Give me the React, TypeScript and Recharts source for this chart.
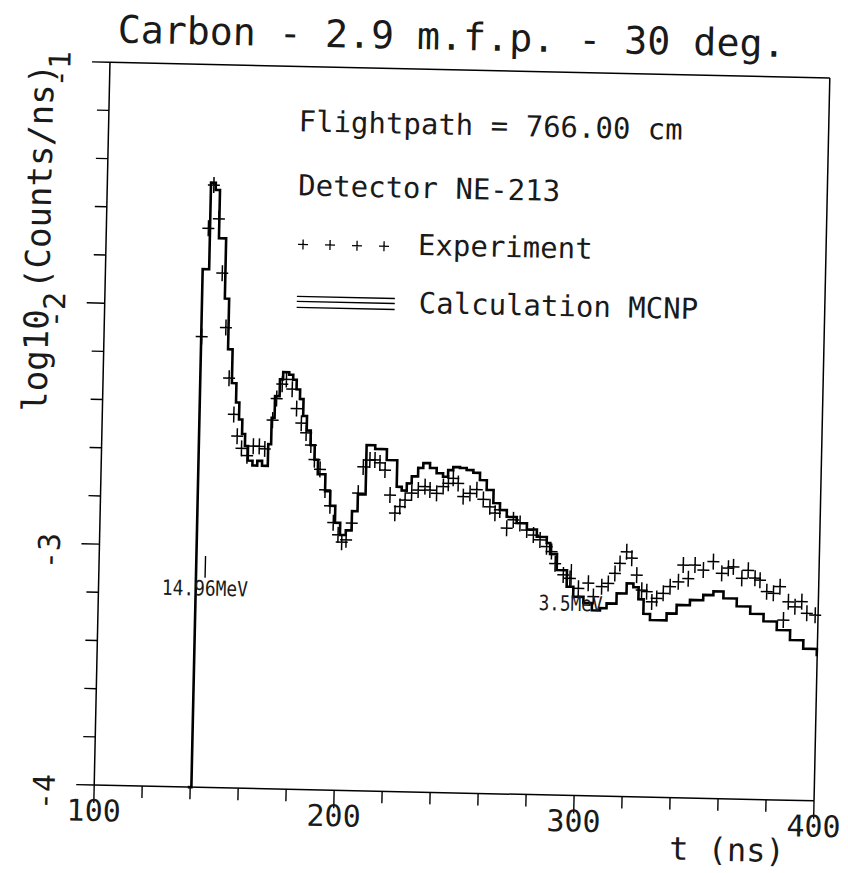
import React from 'react';
import { ComposedChart, Line, Scatter, XAxis, YAxis, ReferenceLine, ReferenceDot, Customized } from 'recharts';

const FONT = '"DejaVu Sans Mono", monospace';
const INK = '#1a1a1a';

const X_TICKS = [100, 120, 140, 160, 180, 200, 220, 240, 260, 280, 300, 320, 340, 360, 380, 400];
const Y_TICKS = [-4, -3.8, -3.6, -3.4, -3.2, -3, -2.8, -2.6, -2.4, -2.2, -2, -1.8, -1.6, -1.4, -1.2, -1];

// MCNP calculation, histogram (bin start time in ns, log10 counts/ns)
const CALC_T = [
  139, 140.5, 143.2, 145.2, 147, 150, 151.8, 153.7, 155.6, 157, 158.4, 159.7, 161, 163, 165, 167, 169.4,
  170.6, 171.8, 173.7, 175, 177.5, 179.2, 180.7, 182.2, 183.7, 185.3, 187, 188.8, 190.3, 193.5, 195.7,
  197.9, 200.1, 202.5, 204.9, 207.2, 210.4, 214, 218.9, 223.3, 225.4, 227.5, 229.5, 232.1, 234.2, 237,
  239.8, 242.5, 244.6, 246.7, 249.5, 252.3, 255.1, 257.9, 260.8, 263.7, 266.5, 269.4, 273.6, 277.9,
  282.1, 286.3, 287.8, 290.7, 295, 297.8, 302.1, 305.7, 309.1, 311.8, 315.9, 320, 322.8, 325, 327.2,
  330, 334.2, 336.9, 341, 346.5, 352, 356.2, 360.4, 366, 371.7, 377.3, 382.9, 388.5, 394.1, 399.8,
];
const CALC_V = [
  -4, -1.85, -1.49, -1.52, -1.72, -1.97, -2.18, -2.32, -2.4, -2.47, -2.53, -2.58, -2.64, -2.66, -2.64, -2.66, -2.57,
  -2.46, -2.37, -2.3, -2.27, -2.28, -2.3, -2.34, -2.38, -2.45, -2.51, -2.57, -2.63, -2.69, -2.76, -2.82,
  -2.89, -2.94, -2.92, -2.84, -2.77, -2.565, -2.58, -2.625, -2.735, -2.75, -2.72, -2.69, -2.655, -2.634, -2.654,
  -2.675, -2.689, -2.661, -2.648, -2.651, -2.659, -2.67, -2.7, -2.74, -2.794, -2.822, -2.85, -2.875, -2.9,
  -2.93, -2.955, -3.0, -3.066, -3.134, -3.175, -3.2, -3.23, -3.22, -3.2, -3.157, -3.115, -3.13, -3.18, -3.24,
  -3.265, -3.265, -3.236, -3.2, -3.178, -3.156, -3.14, -3.168, -3.2, -3.23, -3.26, -3.295, -3.335, -3.37, -3.4,
];

// experiment points
const EXP_T = [
  140.7, 142.5, 144.4, 146.8, 148.7, 150.7, 152.5, 154.8, 156.4, 158.3, 160.7, 163.2, 165.7, 168, 171, 172.5,
  174.7, 176.4, 178.9, 180.9, 183, 185.1, 187.2, 188.8, 191.2, 193.5, 195.7, 197.2, 199.3, 200.9, 202.7, 204.9,
  207.3, 209.2, 211.9, 214, 216.1, 218.3, 220.6, 222.8, 224.8, 226.9, 229.6, 232.3, 235.1, 237.2, 240, 242.7,
  244.8, 246.8, 248.9, 251.1, 253.9, 256.7, 259.5, 262.3, 264.5, 266.5, 269.5, 272.2, 275, 277.9, 280.7, 283.5,
  286.3, 288.4, 290, 293.5, 296.3, 299.9, 304, 306.2, 309.6, 312.3, 315, 317, 319.7, 321.9, 324.1, 326.3,
  328.4, 330.6, 332.6, 335.3, 338.1, 341.5, 343.4, 345.6, 348.3, 351.8, 355.9, 359.5, 362.2, 364.3, 367.9, 370.5,
  373.4, 375.5, 378.4, 381.2, 383.9, 385.6, 387.5, 390.3, 393.1, 395.3, 398.8,
];
const EXP_V = [
  -2.13, -1.68, -1.5, -1.64, -1.865, -2.09, -2.3, -2.45, -2.54, -2.59, -2.62, -2.58, -2.58, -2.59, -2.47, -2.38,
  -2.32, -2.3, -2.34, -2.42, -2.48, -2.52, -2.57, -2.63, -2.67, -2.755, -2.82, -2.89, -2.94, -2.97, -2.96, -2.89,
  -2.765, -2.656, -2.627, -2.626, -2.638, -2.667, -2.77, -2.845, -2.817, -2.79, -2.76, -2.747, -2.732, -2.746, -2.759, -2.73,
  -2.716, -2.695, -2.716, -2.77, -2.756, -2.74, -2.78, -2.81, -2.836, -2.822, -2.897, -2.862, -2.876, -2.903, -2.923, -2.943,
  -2.97, -2.99, -3.04, -3.086, -3.1, -3.14, -3.118, -3.173, -3.131, -3.117, -3.075, -3.033, -2.984, -3.01, -3.08, -3.142,
  -3.148, -3.19, -3.175, -3.153, -3.125, -3.104, -3.034, -3.09, -3.033, -3.053, -3.017, -3.065, -3.043, -3.037, -3.084, -3.05,
  -3.082, -3.09, -3.137, -3.143, -3.115, -3.253, -3.177, -3.197, -3.175, -3.223, -3.23,
];

const ENERGY_MARKS = [
  { t: 144.3, label: '14.96MeV', y: -3.175, len: 86 },
  { t: 296.8, label: '3.5MeV', y: -3.205, len: 64 },
];

const calcData = CALC_T.map((t, i) => ({ t, v: CALC_V[i] }));
const expData = EXP_T.map((t, i) => ({ t, v: EXP_V[i] }));

const MAJOR = 18;
const MINOR = 12;
const TICK_FONT = 30;

function BottomTick({ x, y, payload }: any) {
  const major = payload.value % 100 === 0;
  return (
    <g>
      <line x1={x} x2={x} y1={y} y2={y + (major ? MAJOR : MINOR)} stroke="#000" strokeWidth={1.4} />
      {major && (
        <text x={x} y={y + 36} textAnchor="middle" fontFamily={FONT} fontSize={TICK_FONT} fill={INK}>
          {payload.value}
        </text>
      )}
    </g>
  );
}

function TopTick({ x, y, payload }: any) {
  const major = payload.value % 100 === 0;
  return <line x1={x} x2={x} y1={y} y2={y - (major ? MAJOR : MINOR)} stroke="#000" strokeWidth={1.4} />;
}

function LeftTick({ x, y, payload }: any) {
  const major = Number.isInteger(payload.value);
  const lx = x - 50;
  const ly = y + 8;
  return (
    <g>
      <line x1={x} x2={x - (major ? MAJOR : MINOR)} y1={y} y2={y} stroke="#000" strokeWidth={1.4} />
      {major && (
        <text
          x={lx}
          y={ly}
          transform={`rotate(-90 ${lx} ${ly})`}
          textAnchor="middle"
          dominantBaseline="central"
          fontFamily={FONT}
          fontSize={TICK_FONT}
          fill={INK}
        >
          {payload.value}
        </text>
      )}
    </g>
  );
}

function RightTick({ x, y, payload }: any) {
  const major = Number.isInteger(payload.value);
  return <line x1={x} x2={x + (major ? MAJOR : MINOR)} y1={y} y2={y} stroke="#000" strokeWidth={1.4} />;
}

function Cross({ cx, cy }: any) {
  if (cx == null || cy == null) return null;
  return <path d={`M${cx - 6},${cy}H${cx + 6}M${cx},${cy - 8}V${cy + 8}`} stroke="#000" strokeWidth={1.5} fill="none" />;
}

function EnergyLabel({ cx, cy, label, len }: any) {
  return (
    <text
      x={cx}
      y={cy}
      textAnchor="middle"
      dominantBaseline="central"
      fontFamily={FONT}
      fontSize={21}
      textLength={len}
      lengthAdjust="spacingAndGlyphs"
      fill={INK}
    >
      {label}
    </text>
  );
}

function Annotations() {
  const plus = [291, 318, 345, 372];
  return (
    <g fontFamily={FONT} fill={INK}>
      <text x={101} y={42} fontSize={38} textLength={668} lengthAdjust="spacingAndGlyphs">
        Carbon - 2.9 m.f.p. - 30 deg.
      </text>
      <text x={26} y={239} fontSize={34} textAnchor="middle" dominantBaseline="central" transform="rotate(-90 26 239)">
        log10 (Counts/ns)
      </text>
      <text x={728} y={847} fontSize={32} textAnchor="middle">t (ns)</text>
      <text x={284} y={127} fontSize={29}>Flightpath = 766.00 cm</text>
      <text x={285} y={191} fontSize={29}>Detector NE-213</text>
      {plus.map((px) => (
        <path key={px} d={`M${px - 5},240H${px + 5}M${px},235V245`} stroke="#000" strokeWidth={1.3} />
      ))}
      <text x={406} y={248} fontSize={29}>Experiment</text>
      {[292, 297, 303].map((ly) => (
        <line key={ly} x1={286} x2={384} y1={ly} y2={ly} stroke="#000" strokeWidth={1.4} />
      ))}
      <text x={408} y={306} fontSize={29}>Calculation MCNP</text>
    </g>
  );
}

export default function App() {
  return (
    <div style={{ width: 840, height: 865, overflow: 'hidden', background: '#fff' }}>
      <style>{'body{overflow:hidden}'}</style>
      <div style={{ width: 840, height: 865, transform: 'rotate(1.25deg)', transformOrigin: '454px 423.5px' }}>
        <ComposedChart width={840} height={865} margin={{ top: 42, right: 8, bottom: 50, left: 34 }}>
          <XAxis
            dataKey="t"
            type="number"
            domain={[100, 400]}
            ticks={X_TICKS}
            interval={0}
            height={30}
            tickSize={0}
            tickMargin={0}
            tickLine={false}
            tick={<BottomTick />}
            axisLine={{ stroke: '#000', strokeWidth: 1.5 }}
          />
          <XAxis
            xAxisId="top"
            orientation="top"
            dataKey="t"
            type="number"
            domain={[100, 400]}
            ticks={X_TICKS}
            interval={0}
            height={20}
            tickSize={0}
            tickMargin={0}
            tickLine={false}
            tick={<TopTick />}
            axisLine={{ stroke: '#000', strokeWidth: 1.5 }}
          />
          <YAxis
            type="number"
            domain={[-4, -1]}
            ticks={Y_TICKS}
            interval={0}
            width={60}
            tickSize={0}
            tickMargin={0}
            tickLine={false}
            tick={<LeftTick />}
            axisLine={{ stroke: '#000', strokeWidth: 1.5 }}
          />
          <YAxis
            yAxisId="right"
            orientation="right"
            type="number"
            domain={[-4, -1]}
            ticks={Y_TICKS}
            interval={0}
            width={18}
            tickSize={0}
            tickMargin={0}
            tickLine={false}
            tick={<RightTick />}
            axisLine={{ stroke: '#000', strokeWidth: 1.5 }}
          />
          <Line
            data={calcData}
            dataKey="v"
            type="stepAfter"
            stroke="#000"
            strokeWidth={2.6}
            dot={false}
            activeDot={false}
            isAnimationActive={false}
          />
          <Scatter data={expData} dataKey="v" shape={<Cross />} isAnimationActive={false} />
          {ENERGY_MARKS.map((m) => (
            <ReferenceLine
              key={m.t}
              segment={[{ x: m.t, y: -3.04 }, { x: m.t, y: -3.13 }]}
              stroke="#000"
              strokeWidth={1.4}
            />
          ))}
          {ENERGY_MARKS.map((m) => (
            <ReferenceDot
              key={m.label}
              x={m.t}
              y={m.y}
              r={0}
              shape={(p: any) => <EnergyLabel {...p} label={m.label} len={m.len} />}
            />
          ))}
          <Customized component={<Annotations />} />
        </ComposedChart>
      </div>
    </div>
  );
}
